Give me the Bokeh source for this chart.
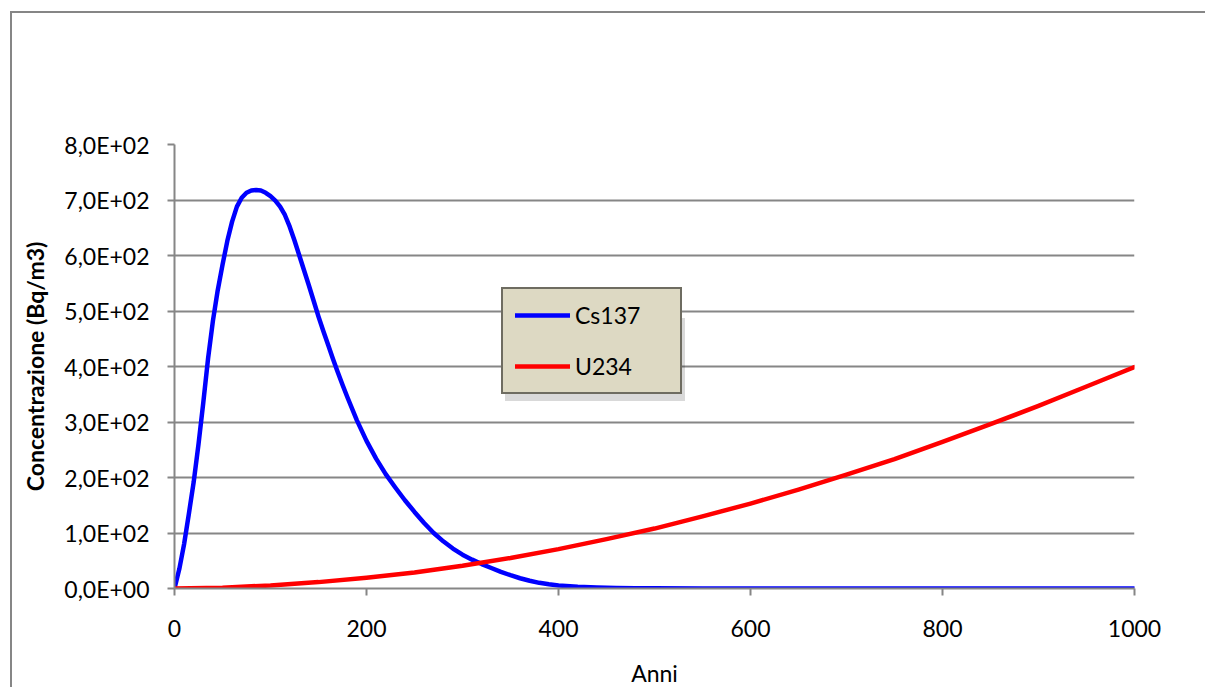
from bokeh.plotting import figure
from bokeh.models import Range1d, FixedTicker, Legend, LegendItem
from bokeh.embed import file_html
from bokeh.resources import INLINE

# ---- data ----
years_cs = [0, 5, 10, 15, 20, 25, 30, 35, 40, 45, 50, 55, 60, 65, 70, 75, 80, 85, 90, 95,
            100, 105, 110, 115, 120, 125, 130, 135, 140, 145, 150, 155, 160, 165, 170, 175,
            180, 190, 200, 210, 220, 230, 240, 250, 260, 270, 280, 290, 300, 310, 320, 330,
            340, 350, 360, 370, 380, 390, 400, 420, 440, 460, 480, 500, 550, 600, 700, 800,
            900, 1000]
cs137 = [0, 35, 80, 135, 192, 260, 335, 415, 482, 537, 583, 626, 661, 688, 704, 713, 717, 718, 717, 713,
         707, 699, 688, 673, 652, 627, 600, 573, 546, 518, 490, 464, 439, 414, 390, 367,
         345, 303, 266, 234, 206, 182, 159, 138, 118, 100, 85, 72, 61, 52, 44, 37,
         30, 24, 18.5, 14, 10.2, 7.6, 5.5, 3.2, 1.8, 1.0, 0.6, 0.3, 0.1, 0, 0, 0,
         0, 0]

years_u = [0, 50, 100, 150, 200, 250, 300, 350, 400, 450, 500, 550, 600, 650, 700, 750, 800,
           850, 900, 950, 1000]
u234 = [0, 1.5, 5.5, 11.5, 19.5, 29, 41, 55, 71, 89, 108, 130, 153, 178, 205, 233, 264,
        296, 329, 364, 399]

x_ticks = [0, 200, 400, 600, 800, 1000]
y_ticks = [0, 100, 200, 300, 400, 500, 600, 700, 800]
y_tick_labels = ["0,0E+00", "1,0E+02", "2,0E+02", "3,0E+02", "4,0E+02",
                 "5,0E+02", "6,0E+02", "7,0E+02", "8,0E+02"]

FONT = "Lato"
GRAY = "#868686"

p = figure(width=1195, height=676, output_backend="svg", toolbar_location=None,
           x_range=Range1d(0, 1000), y_range=Range1d(0, 800),
           min_border_left=162, min_border_right=73, min_border_top=131, min_border_bottom=101,
           background_fill_color="white", border_fill_color="white")
p.styles = {"border-left": "2px solid #868686", "border-top": "2px solid #868686",
            "margin-left": "10px", "margin-top": "11px"}
p.outline_line_color = None

cs_r = p.line(years_cs, cs137, line_color="#0000ff", line_width=4.5,
              line_join="round", line_cap="round")
u_r = p.line(years_u, u234, line_color="#ff0000", line_width=4.5,
             line_join="round", line_cap="round")

# axes
p.xaxis.ticker = FixedTicker(ticks=x_ticks)
p.yaxis.ticker = FixedTicker(ticks=y_ticks)
p.yaxis.major_label_overrides = {t: l for t, l in zip(y_ticks, y_tick_labels)}
for ax in (p.xaxis[0], p.yaxis[0]):
    ax.axis_line_color = GRAY
    ax.axis_line_width = 2
    ax.major_tick_line_color = GRAY
    ax.major_tick_line_width = 2
    ax.major_tick_out = 7
    ax.major_tick_in = 0
    ax.minor_tick_line_color = None
    ax.major_label_text_font = FONT
    ax.major_label_text_font_size = "23px"
    ax.major_label_text_color = "black"
    ax.axis_label_text_font = FONT
    ax.axis_label_text_font_size = "23px"
    ax.axis_label_text_color = "black"

p.xaxis.axis_label = "Anni"
p.xaxis.axis_label_text_font_style = "normal"
p.xaxis.major_label_standoff = 24
p.xaxis.axis_label_standoff = 19
p.yaxis.axis_label = "Concentrazione (Bq/m3)"
p.yaxis.axis_label_text_font_style = "bold"
p.yaxis.major_label_standoff = 18
p.yaxis.axis_label_standoff = 12

p.xgrid.grid_line_color = None
p.ygrid.grid_line_color = GRAY
p.ygrid.grid_line_width = 2

LEG = dict(label_text_font=FONT, label_text_font_size="23px", glyph_width=55,
           padding=12, spacing=23, label_standoff=5, margin=0)

# legend shadow (invisible dummy renderers, blank labels)
d1 = p.line([], [], line_alpha=0)
d2 = p.line([], [], line_alpha=0)
shadow = Legend(items=[LegendItem(label=" ", renderers=[d1]),
                       LegendItem(label=" ", renderers=[d2])],
                location=(331, 187), background_fill_color="#000000", background_fill_alpha=0.15,
                border_line_color=None, label_width=120, glyph_height=30, label_height=30,
                **LEG)
p.add_layout(shadow, "center")

legend = Legend(items=[LegendItem(label="Cs137", renderers=[cs_r]),
                       LegendItem(label="U234", renderers=[u_r])],
                location=(327, 194), background_fill_color="#ddd9c3", background_fill_alpha=1,
                border_line_color="black", border_line_width=2, label_text_color="black",
                label_width=93, glyph_height=20, label_height=20, **LEG)
p.add_layout(legend, "center")

open("out.html", "w").write(file_html(p, INLINE))
